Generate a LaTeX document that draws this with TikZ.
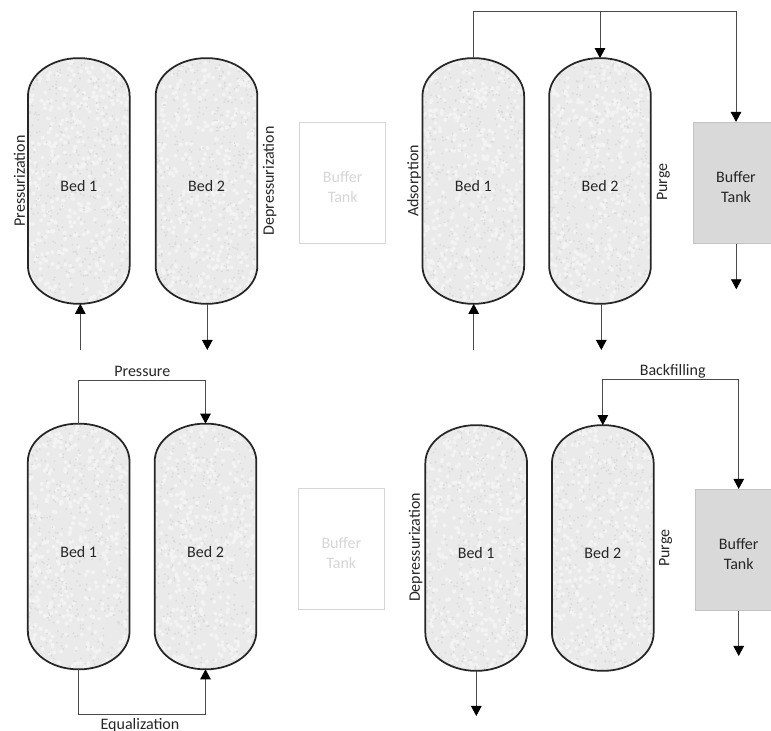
\documentclass[tikz,border=0pt]{standalone}
\usepackage{fontspec}
\setmainfont{Carlito}
\usetikzlibrary{arrows.meta}
\definecolor{ink}{HTML}{262626}
\definecolor{wirec}{HTML}{4A4A4A}
\definecolor{bedfill}{HTML}{EAEAEA}
\definecolor{speck}{HTML}{DADADA}
\definecolor{glint}{HTML}{F3F3F3}
\definecolor{tankfill}{HTML}{D9D9D9}
\definecolor{faded}{HTML}{D6D6D6}

% Outline of a bed, built from the corners of its node.
\newcommand{\bedpath}[1]{([yshift=.76cm]#1.south west)
  arc[start angle=180, end angle=270, x radius=1.01, y radius=.76] -- ([xshift=-1.01cm]#1.south east)
  arc[start angle=270, end angle=360, x radius=1.01, y radius=.76] -- ([yshift=-.76cm]#1.north east)
  arc[start angle=0, end angle=90, x radius=1.01, y radius=.76] -- ([xshift=1.01cm]#1.north west)
  arc[start angle=90, end angle=180, x radius=1.01, y radius=.76] -- cycle}
\newcommand{\bed}[3]{%
  \node[bedbox] (#1) at (#2) {};
  \fill[bedfill] \bedpath{#1};
  \begin{scope}
    \clip \bedpath{#1};
    \foreach \i in {1,...,420} {
      \fill[glint] ([shift={(rand*1.01,rand*2.45)}]#1.center) circle (.04);
      \fill[speck] ([shift={(rand*1.01,rand*2.45)}]#1.center) circle (.02);
    }
  \end{scope}
  \draw[bedline] \bedpath{#1};
  \node[celltext] (#1t) at ([yshift=-.11cm]#1.center) {#3};
}

\begin{document}
\begin{tikzpicture}[font=\fontsize{9.1}{11.4}\selectfont, text=ink,
    bedbox/.style={minimum width=2.02cm, minimum height=4.9cm, inner sep=0pt},
    bedline/.style={draw=ink, line width=1pt},
    celltext/.style={align=center, inner sep=0pt},
    tank/.style={minimum width=1.72cm, minimum height=2.42cm, inner sep=0pt},
    full/.style={tank, fill=tankfill, draw=tankfill!90!black, line width=.4pt},
    ghost/.style={tank, draw=faded, line width=.7pt},
    flow/.style={draw=wirec, line width=.5pt, -{Triangle[width=.21cm, length=.2cm, color=black]}},
    side/.style={rotate=90, inner sep=0pt}]

  \useasboundingbox (0,0) rectangle (15.42,14.62);
  \pgfmathsetseed{731}

  % Pressurization panel.
  \bed{tlA}{1.576,11.0}{Bed 1}
  \bed{tlB}{4.13,11.0}{Bed 2}
  \node[ghost] (tlT) at (6.854,10.964) {};
  \node[celltext, text=faded] (tlTt) at ([yshift=-.08cm]tlT.center) {Buffer\\Tank};
  \node[side] (tlP) at (.386,11.0) {Pressurization};
  \node[side] (tlD) at (5.394,11.0) {Depressurization};
  \coordinate (tlIn) at (1.606,7.62);
  \coordinate (tlOut) at (4.146,7.62);
  \draw[flow] (tlIn) -- (tlIn |- tlA.south);
  \draw[flow] (tlOut |- tlB.south) -- (tlOut);

  % Adsorption panel.
  \bed{trA}{9.466,11.0}{Bed 1}
  \bed{trB}{12.0,11.0}{Bed 2}
  \node[full] (trT) at (14.72,10.964) {};
  \node[celltext] (trTt) at ([yshift=-.08cm]trT.center) {Buffer\\Tank};
  \node[side] (trAd) at (8.28,11.0) {Adsorption};
  \node[side] (trPu) at (13.266,10.98) {Purge};
  \coordinate (trTop) at (9.466,14.394);
  \coordinate (trIn) at (9.474,7.62);
  \coordinate (trOut) at (12.026,7.62);
  \coordinate (trEnd) at (14.726,8.834);
  \draw[flow] (trA.north) -- (trTop) -| (trT.north);
  \draw[flow] (trB.north |- trTop) -- (trB.north);
  \draw[flow] (trIn) -- (trIn |- trA.south);
  \draw[flow] (trOut |- trB.south) -- (trOut);
  \draw[flow] (trEnd |- trT.south) -- (trEnd);

  % Pressure equalization panel.
  \bed{blA}{1.574,3.69}{Bed 1}
  \bed{blB}{4.11,3.69}{Bed 2}
  \node[ghost] (blT) at (6.826,3.644) {};
  \node[celltext, text=faded] (blTt) at ([yshift=-.08cm]blT.center) {Buffer\\Tank};
  \coordinate (blTop) at (1.58,7.006);
  \coordinate (blLow) at (1.554,.34);
  \draw[flow] (blA.north) -- (blA.north |- blTop) -| (blB.north);
  \draw[flow] (blA.south) -- (blA.south |- blLow) -| (blB.south);
  \node[inner sep=0pt] (blPr) at (2.846,7.2) {Pressure};
  \node[inner sep=0pt] (blEq) at (2.8,.12) {Equalization};

  % Backfilling panel.
  \bed{brA}{9.524,3.66}{Bed 1}
  \bed{brB}{12.056,3.66}{Bed 2}
  \node[full] (brT) at (14.774,3.624) {};
  \node[celltext] (brTt) at ([yshift=-.08cm]brT.center) {Buffer\\Tank};
  \node[side] (brD) at (8.314,3.67) {Depressurization};
  \node[side] (brPu) at (13.314,3.66) {Purge};
  \coordinate (brTop) at (14.774,7.04);
  \coordinate (brOut) at (9.526,.3);
  \coordinate (brEnd) at (14.774,1.5);
  \draw[flow] (brT.north |- brTop) -- (brT.north);
  \draw[flow] (brTop) -| (brB.north);
  \draw[flow] (brOut |- brA.south) -- (brOut);
  \draw[flow] (brT.south) -- (brEnd);
  \node[inner sep=0pt] (brBk) at (13.454,7.2) {Backfilling};
\end{tikzpicture}
\end{document}
